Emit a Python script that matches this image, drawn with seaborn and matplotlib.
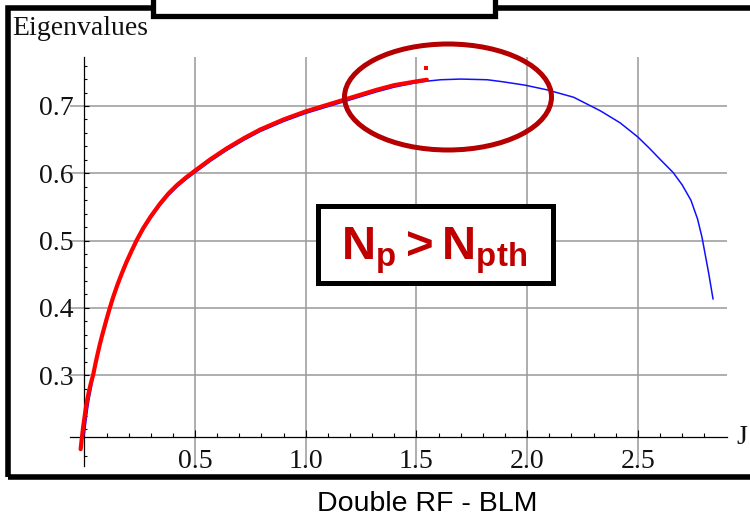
import numpy as np
import pandas as pd
import seaborn as sns
import matplotlib.pyplot as plt
from matplotlib.patches import Rectangle, Ellipse
from matplotlib.ticker import FixedLocator, NullFormatter

# Eigenvalue curve from the full calculation (blue)
j_blue = [0.000, 0.005, 0.010, 0.015, 0.020, 0.030, 0.040, 0.050, 0.060, 0.070,
          0.080, 0.090, 0.100, 0.115, 0.130, 0.150, 0.170, 0.190, 0.215, 0.237,
          0.265, 0.300, 0.342, 0.380, 0.420, 0.460, 0.500, 0.570, 0.643, 0.720,
          0.794, 0.900, 1.000, 1.090, 1.170, 1.250, 1.320, 1.400, 1.490, 1.550,
          1.610, 1.700, 1.820, 1.890, 1.990, 2.090, 2.210, 2.330, 2.420, 2.500,
          2.550, 2.600, 2.660, 2.700, 2.740, 2.770, 2.790, 2.820, 2.840]
eig_blue = [0.212, 0.226, 0.239, 0.251, 0.262, 0.279, 0.297, 0.314, 0.329, 0.343,
            0.356, 0.368, 0.380, 0.397, 0.413, 0.432, 0.449, 0.465, 0.483, 0.498,
            0.515, 0.533, 0.552, 0.567, 0.580, 0.591, 0.601, 0.618, 0.634, 0.649,
            0.662, 0.677, 0.689, 0.698, 0.706, 0.714, 0.721, 0.728, 0.734, 0.737,
            0.739, 0.740, 0.739, 0.736, 0.731, 0.724, 0.713, 0.693, 0.675, 0.654,
            0.638, 0.621, 0.601, 0.583, 0.560, 0.532, 0.505, 0.452, 0.413]

# Eigenvalue curve from the approximate model (red), up to the threshold
j_red = [-0.017, -0.012, -0.006, 0.000, 0.006, 0.012, 0.020, 0.030, 0.040, 0.050,
         0.060, 0.070, 0.080, 0.090, 0.100, 0.115, 0.130, 0.150, 0.170, 0.190,
         0.215, 0.237, 0.265, 0.300, 0.342, 0.380, 0.420, 0.460, 0.500, 0.570,
         0.643, 0.720, 0.794, 0.900, 1.000, 1.090, 1.170, 1.250, 1.320, 1.400,
         1.490, 1.547]
eig_red = [0.190, 0.205, 0.222, 0.236, 0.250, 0.262, 0.275, 0.289, 0.301, 0.317,
           0.332, 0.346, 0.359, 0.371, 0.383, 0.400, 0.416, 0.435, 0.452, 0.468,
           0.486, 0.501, 0.518, 0.536, 0.555, 0.570, 0.583, 0.594, 0.604, 0.621,
           0.637, 0.652, 0.665, 0.680, 0.692, 0.701, 0.709, 0.717, 0.724, 0.731,
           0.736, 0.739]
j_dot = [1.542]
eig_dot = [0.757]

x_major = [0.5, 1.0, 1.5, 2.0, 2.5]
x_labels = ["0.5", "1.0", "1.5", "2.0", "2.5"]
y_major = [0.3, 0.4, 0.5, 0.6, 0.7]
y_labels = ["0.3", "0.4", "0.5", "0.6", "0.7"]

W, H = 750, 516


def fx(px):
    return px / W


def fy(py):
    return 1 - py / H


sns.set_theme(style="white")
plt.rcParams["font.family"] = ["Liberation Serif", "DejaVu Serif"]
plt.rcParams["mathtext.fontset"] = "custom"
plt.rcParams["mathtext.bf"] = "Liberation Sans:bold"
plt.rcParams["mathtext.rm"] = "Liberation Sans:bold"
plt.rcParams["mathtext.it"] = "Liberation Sans:bold"

fig = plt.figure(figsize=(7.5, 5.16), dpi=100)
fig.patch.set_facecolor("white")
ax = fig.add_axes([fx(70), fy(466), 657 / W, 409 / H])
ax.set_facecolor("white")

blue = pd.DataFrame({"J": j_blue, "Eigenvalues": eig_blue})
red = pd.DataFrame({"J": j_red, "Eigenvalues": eig_red})
sns.lineplot(data=blue, x="J", y="Eigenvalues", ax=ax, color="#1010ff",
             lw=1.1, estimator=None, sort=False, zorder=3)
sns.lineplot(data=red, x="J", y="Eigenvalues", ax=ax, color="#ff0000",
             lw=3.0, estimator=None, sort=False, zorder=4)
sns.scatterplot(x=j_dot, y=eig_dot, ax=ax, color="#ff0000", marker="s",
                s=7, linewidth=0, zorder=5)

ax.set_xlim(-0.065, 2.903)
ax.set_ylim(0.165, 0.7728)
ax.set_xlabel("")
ax.set_ylabel("")

# Axes cross at (0, 0.208), Mathematica style
for side in ("top", "right"):
    ax.spines[side].set_visible(False)
ax.spines["left"].set_position(("data", 0.0))
ax.spines["bottom"].set_position(("data", 0.208))
for side in ("left", "bottom"):
    ax.spines[side].set_color("black")
    ax.spines[side].set_linewidth(0.9)
    ax.spines[side].set_zorder(2.5)

ax.xaxis.set_major_locator(FixedLocator(x_major))
ax.set_xticklabels(x_labels)
x_minor = [round(0.1 * k, 1) for k in range(1, 29) if k % 5 != 0]
ax.xaxis.set_minor_locator(FixedLocator(x_minor))
ax.yaxis.set_major_locator(FixedLocator(y_major))
ax.set_yticklabels(y_labels)
y_minor = [round(0.18 + 0.02 * k, 2) for k in range(0, 30)]
y_minor = [v for v in y_minor if round(v * 10, 6) != round(v * 10) and v < 0.775]
ax.yaxis.set_minor_locator(FixedLocator(y_minor))
ax.xaxis.set_minor_formatter(NullFormatter())
ax.yaxis.set_minor_formatter(NullFormatter())

ax.tick_params(axis="x", which="major", direction="in", length=5, width=0.8,
               color="black", labelsize=20, pad=8.5, bottom=True)
ax.tick_params(axis="x", which="minor", direction="in", length=3, width=0.8,
               color="black", bottom=True)
ax.tick_params(axis="y", which="major", direction="in", length=3.5, width=0.8,
               color="black", labelsize=20, pad=7.5, left=True)
ax.tick_params(axis="y", which="minor", direction="in", length=2, width=0.8,
               color="black", left=True)
for lab in ax.get_xticklabels() + ax.get_yticklabels():
    lab.set_color("#111111")

ax.grid(True, which="major", color="#999999", lw=1.1)
ax.set_axisbelow(True)

# Axis titles
fig.text(fx(12), fy(35), "Eigenvalues", fontsize=20, color="#111111",
         va="baseline", ha="left")
fig.text(fx(736), fy(438), "J", fontsize=20, color="#111111",
         va="center", ha="left")

# Threshold region marker
fig.add_artist(Ellipse((fx(448), fy(97)), 207 / W, 106 / H,
                       transform=fig.transFigure, fill=False,
                       edgecolor="#b40000", lw=3.6, zorder=10))

# Condition box
fig.add_artist(Rectangle((fx(317.5), fy(282.5)), 235 / W, 77 / H,
                         transform=fig.transFigure, facecolor="white",
                         edgecolor="black", lw=3.6, zorder=10))
fig.text(fx(434), fy(251), r"$\mathbf{N_p > N_{pth}}$", fontsize=34,
         color="#c00000", ha="center", va="center", zorder=11)

# Outer frame and clipped header box
fig.add_artist(Rectangle((fx(8), fy(477)), 780 / W, 469.5 / H,
                         transform=fig.transFigure, fill=False,
                         edgecolor="black", lw=4, zorder=12))
fig.add_artist(Rectangle((fx(153), fy(15.5)), 341.5 / W, 40 / H,
                         transform=fig.transFigure, facecolor="white",
                         edgecolor="black", lw=3.8, zorder=13))

fig.text(fx(427), fy(511), "Double RF - BLM", fontsize=20.5,
         family=["Liberation Sans", "DejaVu Sans"], color="black",
         ha="center", va="baseline")

fig.savefig("out.png", dpi=100)
